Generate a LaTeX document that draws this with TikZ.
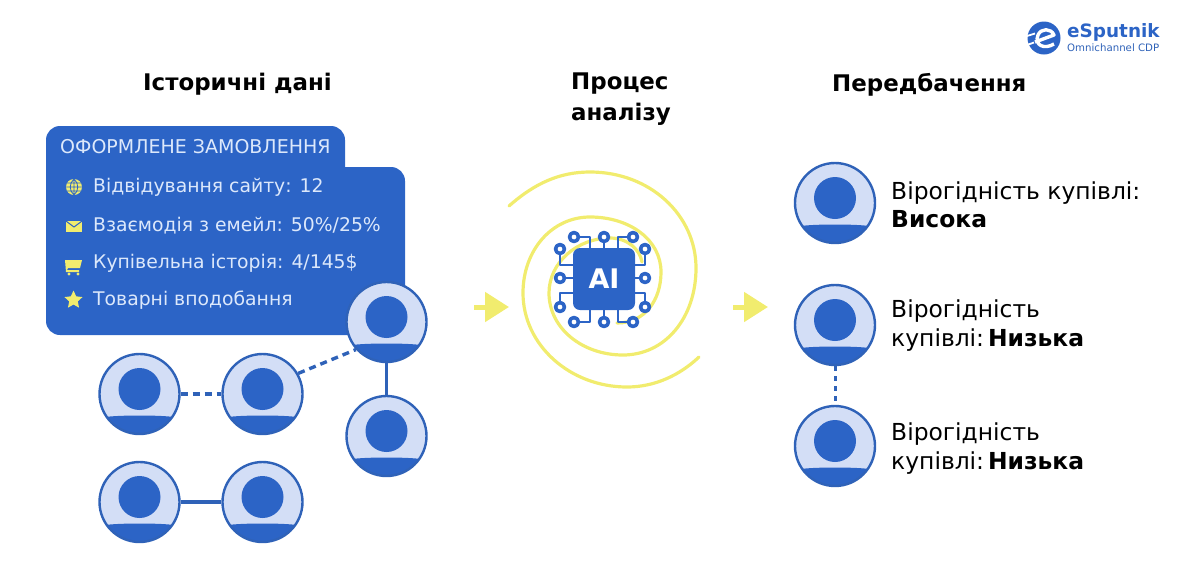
\documentclass[tikz,border=0pt]{standalone}
\usepackage{fontspec}
\setmainfont{DejaVu Sans}
\usetikzlibrary{arrows.meta,shapes.geometric}
\definecolor{mainblue}{HTML}{2C64C6}
\definecolor{edgeblue}{HTML}{2F62B8}
\definecolor{paleblue}{HTML}{D3DEF6}
\definecolor{textpale}{HTML}{DCE8FB}
\definecolor{hlyellow}{HTML}{F1EC6E}
\newcommand{\fnt}[1]{\fontsize{#1}{#1}\selectfont}
\tikzset{
	person/.style={circle,draw=edgeblue,fill=paleblue,line width=2.4pt,minimum size=80pt,inner sep=0pt,
		path picture={
			\begin{scope}[shift={(path picture bounding box.center)}]
				\fill[mainblue] (0,-5) circle (21);
				\fill[mainblue] (-45,24)--(-34,23) .. controls (-20,21) and (20,21) .. (34,23)--(45,24)--(45,50)--(-45,50)--cycle;
			\end{scope}
	}},
	link/.style={edgeblue,line width=3.4pt},
	dashlink/.style={link,dash pattern=on 7pt off 5pt},
	heading/.style={font=\bfseries\fnt{22.9},anchor=west,inner sep=0pt,text=black},
	rowtext/.style={font=\fnt{18.8},anchor=west,inner sep=0pt,text=textpale},
	result/.style={font=\fnt{23.4},anchor=west,inner sep=0pt,align=left,text=black},
	pad/.style={circle,draw=mainblue,fill=white,line width=3.6pt,minimum size=9pt,inner sep=0pt},
	trace/.style={mainblue,line width=2.8pt},
	swirl/.style={hlyellow,line width=3.2pt,line cap=round},
	flow/.style={hlyellow,line width=5pt,-{Triangle[length=24pt,width=29pt]}},
}
\begin{document}
\begin{tikzpicture}[x=1pt,y=-1pt,line join=round]
	\useasboundingbox (0,0) rectangle (1191,587);
	% headings
	\node[heading] (histtitle) at (143,84.5) {Історичні дані};
	\node[heading,align=left] (proctitle) at (571,99.5) {Процес\\[8pt]аналізу};
	\node[heading] (predtitle) at (832,84.5) {Передбачення};
	% logo
	\fill[mainblue] (1044,38) circle (16.5);
	\draw[white,line width=3.4pt] (1035,42)--(1054,35) .. controls (1051,28) and (1041,28) .. (1038,35) .. controls (1034,45) and (1044,50) .. (1054,44);
	\draw[white,line width=1.8pt] (1027,36)--(1035,33.5) (1027,45)--(1034,42.5);
	\node[font=\bfseries\fnt{18.4},text=mainblue,anchor=west,inner sep=0pt] (logoname) at (1067,32) {eSputnik};
	\node[font=\fnt{10.2},text=edgeblue,anchor=west,inner sep=0pt] (logosub) at (1067,48) {Omnichannel CDP};
	% panel
	\fill[mainblue,rounded corners=14pt] (46,126) rectangle (345,250);
	\fill[mainblue,rounded corners=14pt] (46,167) rectangle (405,335);
	\node[rowtext,font=\fnt{19}] (ordertitle) at (60,147) {ОФОРМЛЕНЕ ЗАМОВЛЕННЯ};
	\node[rowtext] (row1) at (93,187.5) {Відвідування сайту: 12};
	\node[rowtext] (row2) at (93,225.5) {Взаємодія з емейл: 50\%/25\%};
	\node[rowtext] (row3) at (93,263) {Купівельна історія: 4/145\$};
	\node[rowtext] (row4) at (93,300.5) {Товарні вподобання};
	% row icons
	\fill[hlyellow] (74,187) circle (8);
	\draw[mainblue,line width=.8pt] (66,187)--(82,187) (74,179)--(74,195) (67,183)--(81,183) (67,191)--(81,191) (74,179) .. controls (69,183) and (69,191) .. (74,195) (74,179) .. controls (79,183) and (79,191) .. (74,195);
	\fill[hlyellow] (66,221) rectangle (82,232);
	\draw[mainblue,line width=1pt] (66,221)--(74,227)--(82,221);
	\fill[hlyellow] (65,260)--(82,260)--(80,268)--(68,268)--(67,270)--(79,270)--(79,272)--(66,272)--cycle;
	\fill[hlyellow] (69,274) circle (1.6) (78,274) circle (1.6);
	\node[star,star points=5,star point ratio=2.1,fill=hlyellow,minimum size=19pt,inner sep=0pt] (staricon) at (73.5,300) {};
	% people on the left
	\node[person] (p1) at (139.5,394) {};
	\node[person] (p2) at (262.5,394) {};
	\node[person] (p3) at (139.5,502) {};
	\node[person] (p4) at (262.5,502) {};
	\node[person] (p5) at (386.5,322) {};
	\node[person] (p6) at (386.5,436) {};
	\draw[dashlink] (p1)--(p2);
	\draw[dashlink] (p2.30)--(p5.222);
	\draw[link] (p3)--(p4);
	\draw[link] (p5)--(p6);
	% swirl
	\draw[swirl] (509,206) .. controls (535,183) and (560,172) .. (590,172) .. controls (650,172) and (696,215) .. (696,268) .. controls (696,318) and (665,355) .. (623,355) .. controls (582,355) and (549,328) .. (549,293) .. controls (549,262) and (578,238) .. (610,238) .. controls (628,238) and (640,250) .. (642,262);
	\draw[swirl] (699,357) .. controls (680,375) and (655,387) .. (627,387) .. controls (570,387) and (523,345) .. (523,293) .. controls (523,250) and (552,217) .. (590,217) .. controls (630,217) and (661,240) .. (661,272) .. controls (661,300) and (645,323) .. (617,323);
	% chip
	\foreach \n/\px/\py/\ex/\ey/\lnk in {
		1/574/237/590/250/-|, 2/604/237/604/250/--, 3/633/237/618/250/-|,
		4/560/249/575/265/|-, 5/560/278/575/278/--, 6/560/307/575/293/|-,
		7/645/249/633/265/|-, 8/645/278/633/278/--, 9/645/307/633/293/|-,
		10/574/322/590/308/-|, 11/604/322/604/308/--, 12/633/322/618/308/-|}{
		\node[pad] (pad\n) at (\px,\py) {};
		\coordinate (end\n) at (\ex,\ey);
		\draw[trace] (pad\n) \lnk (end\n);
	}
	\node[fill=mainblue,rounded corners=7pt,minimum size=62pt,inner sep=0pt,text=white,font=\bfseries\fnt{27}] (chip) at (604,279) {AI};
	% flow arrows
	\coordinate (flowa) at (474,307);
	\coordinate (flowb) at (509,307);
	\coordinate (flowc) at (733,307);
	\coordinate (flowd) at (768,307);
	\draw[flow] (flowa)--(flowb);
	\draw[flow] (flowc)--(flowd);
	% people on the right
	\node[person] (p7) at (835,203) {};
	\node[person] (p8) at (835,325) {};
	\node[person] (p9) at (835,446) {};
	\draw[link,line width=3pt,dash pattern=on 5pt off 5pt] (p8)--(p9);
	\node[result] (res1) at (891,204.5) {Вірогідність купівлі:\\[5pt]\textbf{Висока}};
	\node[result] (res2) at (891,325.5) {Вірогідність\\[6pt]купівлі:\hspace{4pt}\textbf{Низька}};
	\node[result] (res3) at (891,448.5) {Вірогідність\\[6pt]купівлі:\hspace{4pt}\textbf{Низька}};
\end{tikzpicture}
\end{document}
